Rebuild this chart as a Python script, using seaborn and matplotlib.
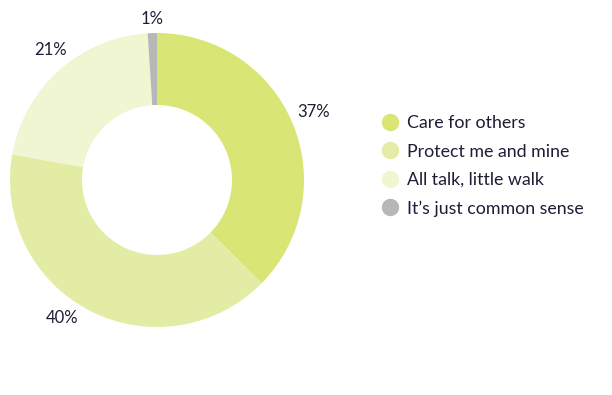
import matplotlib
matplotlib.use("Agg")
import matplotlib.pyplot as plt
from matplotlib.lines import Line2D
import seaborn as sns

categories = ["Care for others", "Protect me and mine", "All talk, little walk", "It\u2019s just common sense"]
values = [37, 40, 21, 1]
pct_labels = ["37%", "40%", "21%", "1%"]
colors = ["#d9e574", "#e3eca4", "#f0f5d2", "#b7b7b7"]

sns.set_theme(style="white")
plt.rcParams["font.family"] = ["Lato", "DejaVu Sans"]
text_color = "#1d1d35"

W, H = 612, 395
fig = plt.figure(figsize=(W / 100, H / 100), dpi=100)
cx, cy, half = 157, 180, 150
ax = fig.add_axes([(cx - half) / W, (H - cy - half) / H, 2 * half / W, 2 * half / H])

wedges, texts = ax.pie(
    values,
    colors=sns.color_palette(colors),
    startangle=90,
    counterclock=False,
    radius=0.98,
    labels=pct_labels,
    labeldistance=1.16,
    wedgeprops=dict(width=0.98 - 0.5, edgecolor="none"),
    textprops=dict(fontsize=12, color=text_color),
)
# label placement (axis units)
label_pos = [(1.047, 0.453), (-0.633, -0.92), (-0.713, 0.867), (-0.033, 1.075)]
for t, p in zip(texts, label_pos):
    t.set_position(p)
    t.set_horizontalalignment("center")
    t.set_verticalalignment("center")
ax.set_xlim(-1, 1)
ax.set_ylim(-1, 1)
ax.set_aspect("equal")
ax.axis("off")

handles = [Line2D([0], [0], marker="o", linestyle="none", markersize=12.5,
                  markerfacecolor=c, markeredgecolor="none") for c in colors]
leg = fig.legend(handles, categories, loc="center left",
                 bbox_to_anchor=(372 / W, 1 - 166 / H), frameon=False,
                 fontsize=12.8, labelspacing=0.69, handletextpad=0.45,
                 handlelength=1.0, borderpad=0)
for t in leg.get_texts():
    t.set_color(text_color)

fig.savefig("out.png", dpi=100)
